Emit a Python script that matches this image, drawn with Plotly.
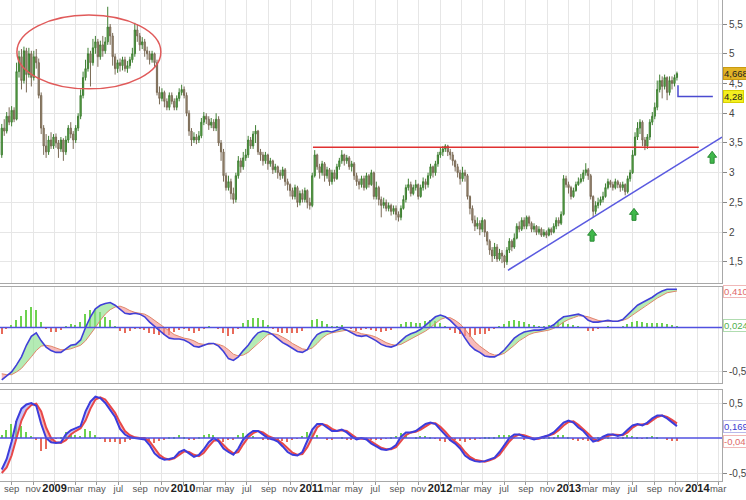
import pandas as pd
import plotly.graph_objects as go
from plotly.subplots import make_subplots

# ---------------- DATA (weekly candles) ----------------
week_start = "2008-08-04"
first_open = 3.30
close = [
    3.75, 3.70, 3.95, 3.85, 4.05, 3.90, 4.70, 4.95, 4.55, 5.05,
    4.65, 5.00, 4.60, 4.95, 4.85, 4.30, 3.75, 3.45, 3.35, 3.55,
    3.45, 3.60, 3.50, 3.40, 3.55, 3.35, 3.55, 3.75, 3.65, 3.55,
    3.75, 3.95, 4.30, 4.60, 4.75, 5.00, 4.85, 5.10, 5.20, 4.95,
    5.15, 5.05, 5.20, 5.45, 5.30, 4.95, 4.75, 4.85, 4.80, 4.90,
    4.75, 4.80, 4.90, 5.00, 5.40, 5.30, 5.15, 5.20, 5.05, 5.00,
    4.90, 5.00, 4.85, 4.35, 4.25, 4.35, 4.20, 4.10, 4.30, 4.20,
    4.10, 4.25, 4.35, 4.40, 4.30, 4.00, 3.70, 3.55, 3.60, 3.55,
    3.62, 3.85, 3.95, 3.90, 3.80, 3.85, 3.75, 3.90, 3.50, 3.35,
    2.95, 2.75, 2.85, 2.65, 2.55, 2.95, 3.20, 3.10, 3.25, 3.30,
    3.55, 3.45, 3.65, 3.70, 3.35, 3.30, 3.20, 3.30, 3.15, 3.20,
    3.05, 3.10, 3.00, 2.95, 3.05, 2.85, 2.80, 2.70, 2.60, 2.75,
    2.50, 2.65, 2.55, 2.70, 2.50, 2.45, 2.95, 3.30, 3.10, 3.00,
    3.15, 2.95, 3.05, 2.85, 3.00, 2.90, 3.10, 3.20, 3.30, 3.20,
    3.25, 3.10, 3.15, 2.95, 2.85, 2.80, 2.90, 2.75, 2.95, 2.80,
    3.00, 2.60, 2.75, 2.55, 2.45, 2.50, 2.40, 2.45, 2.35, 2.40,
    2.30, 2.25, 2.40, 2.55, 2.75, 2.80, 2.65, 2.75, 2.80, 2.60,
    2.75, 2.85, 2.80, 2.95, 3.10, 3.00, 3.15, 3.30, 3.35, 3.40,
    3.45, 3.35, 3.30, 3.20, 3.10, 3.00, 2.90, 3.00, 2.95, 2.60,
    2.40, 2.20, 2.10, 2.15, 2.05, 2.20, 2.00, 1.85, 1.70, 1.60,
    1.75, 1.55, 1.65, 1.60, 1.50, 1.70, 1.85, 1.75, 1.90, 2.10,
    2.05, 2.20, 2.10, 2.25, 2.15, 2.05, 2.10, 2.00, 2.05, 1.95,
    2.00, 1.95, 2.05, 2.00, 2.10, 2.20, 2.15, 2.30, 2.90, 2.80,
    2.75, 2.60, 2.70, 2.80, 2.85, 2.90, 3.00, 3.05, 2.95, 2.60,
    2.35, 2.45, 2.50, 2.55, 2.60, 2.75, 2.85, 2.80, 2.75, 2.85,
    2.80, 2.75, 2.80, 2.68, 2.90, 3.00, 3.30, 3.60, 3.75, 3.85,
    3.55, 3.45, 3.60, 3.85, 3.95, 4.10, 4.40, 4.55, 4.45, 4.60,
    4.35, 4.55, 4.50, 4.60, 4.668,
]
high = [
    3.82, 3.90, 4.02, 4.10, 4.12, 4.10, 4.85, 5.05, 5.08, 5.12,
    5.10, 5.10, 5.05, 5.05, 5.08, 4.92, 4.35, 3.80, 3.65, 3.62,
    3.68, 3.65, 3.66, 3.55, 3.60, 3.58, 3.62, 3.80, 3.85, 3.70,
    3.80, 4.00, 4.40, 4.70, 4.90, 5.10, 5.05, 5.25, 5.30, 5.25,
    5.22, 5.30, 5.28, 5.79, 5.50, 5.35, 5.00, 4.90, 4.92, 4.95,
    4.95, 4.88, 4.95, 5.10, 5.52, 5.50, 5.35, 5.28, 5.25, 5.12,
    5.05, 5.05, 5.02, 4.90, 4.45, 4.42, 4.38, 4.25, 4.35, 4.35,
    4.25, 4.30, 4.42, 4.48, 4.45, 4.35, 4.05, 3.75, 3.68, 3.65,
    3.70, 3.92, 4.02, 4.00, 3.95, 3.92, 3.90, 4.00, 3.95, 3.55,
    3.40, 3.00, 2.95, 2.90, 2.75, 3.00, 3.28, 3.25, 3.35, 3.40,
    3.62, 3.60, 3.70, 3.80, 3.72, 3.40, 3.35, 3.35, 3.32, 3.25,
    3.22, 3.15, 3.12, 3.05, 3.10, 3.08, 2.90, 2.82, 2.75, 2.80,
    2.78, 2.70, 2.72, 2.75, 2.72, 2.58, 3.00, 3.38, 3.32, 3.15,
    3.20, 3.18, 3.10, 3.08, 3.05, 3.05, 3.15, 3.25, 3.38, 3.32,
    3.30, 3.28, 3.20, 3.18, 3.00, 2.90, 2.95, 2.95, 3.00, 2.98,
    3.05, 3.02, 2.85, 2.78, 2.60, 2.58, 2.55, 2.50, 2.48, 2.45,
    2.45, 2.35, 2.45, 2.62, 2.80, 2.90, 2.85, 2.80, 2.88, 2.82,
    2.80, 2.92, 2.90, 3.00, 3.15, 3.12, 3.20, 3.35, 3.42, 3.45,
    3.48, 3.47, 3.40, 3.35, 3.22, 3.15, 3.05, 3.10, 3.05, 2.98,
    2.62, 2.45, 2.28, 2.25, 2.20, 2.25, 2.22, 2.02, 1.88, 1.75,
    1.82, 1.80, 1.72, 1.70, 1.62, 1.75, 1.90, 1.88, 1.98, 2.15,
    2.18, 2.25, 2.25, 2.28, 2.28, 2.18, 2.15, 2.12, 2.10, 2.08,
    2.05, 2.03, 2.08, 2.08, 2.15, 2.25, 2.25, 2.35, 2.96, 2.95,
    2.85, 2.78, 2.75, 2.85, 2.92, 2.98, 3.05, 3.16, 3.08, 2.98,
    2.62, 2.52, 2.58, 2.60, 2.68, 2.82, 2.90, 2.88, 2.85, 2.90,
    2.88, 2.84, 2.85, 2.82, 2.95, 3.05, 3.38, 3.68, 3.85, 3.90,
    3.88, 3.60, 3.65, 3.90, 4.02, 4.18, 4.55, 4.65, 4.62, 4.65,
    4.62, 4.62, 4.62, 4.65, 4.70,
]
low = [
    3.25, 3.62, 3.66, 3.80, 3.78, 3.85, 3.88, 4.60, 4.40, 4.50,
    4.35, 4.60, 4.45, 4.55, 4.75, 4.25, 3.65, 3.30, 3.25, 3.30,
    3.40, 3.40, 3.42, 3.25, 3.35, 3.20, 3.30, 3.50, 3.58, 3.40,
    3.50, 3.70, 3.90, 4.25, 4.55, 4.70, 4.45, 4.80, 5.00, 4.78,
    4.90, 4.95, 5.00, 5.15, 5.15, 4.80, 4.65, 4.68, 4.70, 4.72,
    4.70, 4.68, 4.75, 4.85, 4.95, 5.20, 5.05, 5.08, 4.95, 4.90,
    4.82, 4.85, 4.78, 4.30, 4.15, 4.20, 4.10, 4.05, 4.05, 4.15,
    4.05, 4.05, 4.20, 4.30, 4.25, 3.95, 3.62, 3.45, 3.50, 3.48,
    3.50, 3.58, 3.80, 3.82, 3.72, 3.75, 3.70, 3.70, 3.45, 3.20,
    2.85, 2.70, 2.70, 2.55, 2.48, 2.50, 2.90, 3.00, 3.05, 3.20,
    3.25, 3.40, 3.40, 3.50, 3.30, 3.20, 3.12, 3.15, 3.05, 3.10,
    2.98, 3.00, 2.90, 2.88, 2.90, 2.78, 2.70, 2.60, 2.55, 2.55,
    2.42, 2.45, 2.50, 2.50, 2.40, 2.38, 2.42, 2.92, 3.05, 2.90,
    2.95, 2.85, 2.90, 2.78, 2.80, 2.85, 2.88, 3.05, 3.15, 3.12,
    3.15, 3.05, 3.02, 2.88, 2.78, 2.72, 2.75, 2.70, 2.72, 2.75,
    2.78, 2.55, 2.55, 2.45, 2.25, 2.40, 2.35, 2.35, 2.28, 2.30,
    2.20, 2.18, 2.20, 2.38, 2.50, 2.70, 2.60, 2.62, 2.70, 2.55,
    2.58, 2.70, 2.72, 2.75, 2.90, 2.92, 2.95, 3.10, 3.25, 3.28,
    3.35, 3.28, 3.22, 3.12, 3.02, 2.92, 2.80, 2.85, 2.85, 2.55,
    2.30, 2.15, 2.02, 2.05, 1.95, 2.00, 1.92, 1.78, 1.62, 1.50,
    1.55, 1.50, 1.52, 1.48, 1.40, 1.45, 1.65, 1.68, 1.72, 1.88,
    2.00, 2.02, 2.05, 2.05, 2.10, 2.00, 2.00, 1.95, 1.96, 1.92,
    1.92, 1.90, 1.93, 1.95, 1.98, 2.05, 2.10, 2.12, 2.28, 2.75,
    2.65, 2.55, 2.58, 2.68, 2.78, 2.82, 2.85, 2.95, 2.88, 2.55,
    2.25, 2.30, 2.40, 2.45, 2.50, 2.58, 2.72, 2.75, 2.70, 2.72,
    2.74, 2.68, 2.70, 2.62, 2.65, 2.85, 2.98, 3.28, 3.55, 3.65,
    3.45, 3.38, 3.40, 3.55, 3.80, 3.90, 4.05, 4.35, 4.25, 4.40,
    4.22, 4.30, 4.40, 4.45, 4.55,
]

# ---------------- DATA (indicators, every second week) ----------------
macd_line = [
    -0.59, -0.55, -0.50, -0.42, -0.33, -0.20, -0.10, -0.06, -0.15, -0.22,
    -0.26, -0.28, -0.28, -0.24, -0.20, -0.19, -0.14, 0.00, 0.12, 0.21,
    0.25, 0.27, 0.28, 0.25, 0.20, 0.16, 0.15, 0.16, 0.15, 0.12,
    0.06, 0.01, -0.04, -0.08, -0.12, -0.13, -0.13, -0.14, -0.17, -0.21,
    -0.22, -0.20, -0.18, -0.18, -0.21, -0.27, -0.35, -0.37, -0.33, -0.26,
    -0.20, -0.12, -0.06, -0.04, -0.05, -0.08, -0.13, -0.17, -0.20, -0.24,
    -0.27, -0.28, -0.25, -0.15, -0.08, -0.05, -0.04, -0.05, -0.03, -0.01,
    -0.03, -0.06, -0.09, -0.10, -0.09, -0.12, -0.15, -0.19, -0.21, -0.22,
    -0.20, -0.15, -0.10, -0.07, -0.05, -0.02, 0.03, 0.08, 0.12, 0.14,
    0.12, 0.08, 0.02, -0.03, -0.12, -0.20, -0.25, -0.28, -0.32, -0.33,
    -0.33, -0.30, -0.25, -0.18, -0.12, -0.08, -0.05, -0.04, -0.03, -0.03,
    -0.02, 0.00, 0.03, 0.08, 0.12, 0.13, 0.14, 0.15, 0.13, 0.08,
    0.06, 0.06, 0.07, 0.08, 0.07, 0.07, 0.09, 0.14, 0.20, 0.25,
    0.28, 0.31, 0.34, 0.38, 0.41, 0.43, 0.43, 0.43,
]
macd_signal = [
    -0.52, -0.53, -0.53, -0.50, -0.46, -0.40, -0.33, -0.26, -0.21, -0.20,
    -0.21, -0.23, -0.25, -0.25, -0.24, -0.22, -0.20, -0.15, -0.08, 0.00,
    0.08, 0.15, 0.20, 0.23, 0.24, 0.22, 0.19, 0.17, 0.16, 0.15,
    0.12, 0.08, 0.04, 0.00, -0.04, -0.08, -0.10, -0.12, -0.13, -0.15,
    -0.18, -0.19, -0.19, -0.18, -0.19, -0.21, -0.25, -0.30, -0.32, -0.31,
    -0.28, -0.23, -0.17, -0.12, -0.08, -0.07, -0.08, -0.11, -0.14, -0.18,
    -0.21, -0.24, -0.25, -0.23, -0.18, -0.12, -0.08, -0.06, -0.05, -0.04,
    -0.03, -0.04, -0.05, -0.07, -0.08, -0.09, -0.11, -0.14, -0.17, -0.19,
    -0.20, -0.19, -0.16, -0.13, -0.10, -0.07, -0.04, 0.00, 0.05, 0.09,
    0.11, 0.11, 0.08, 0.04, -0.02, -0.09, -0.16, -0.21, -0.25, -0.29,
    -0.31, -0.31, -0.29, -0.25, -0.20, -0.15, -0.11, -0.08, -0.06, -0.05,
    -0.04, -0.03, -0.01, 0.02, 0.06, 0.09, 0.11, 0.13, 0.13, 0.12,
    0.10, 0.08, 0.07, 0.07, 0.07, 0.07, 0.08, 0.10, 0.14, 0.18,
    0.22, 0.26, 0.29, 0.33, 0.36, 0.39, 0.40, 0.41,
]
osc_blue = [
    -0.45, -0.30, -0.05, 0.25, 0.42, 0.48, 0.50, 0.46, 0.20, 0.00,
    -0.06, -0.07, -0.06, 0.05, 0.11, 0.14, 0.17, 0.38, 0.52, 0.59,
    0.57, 0.50, 0.40, 0.30, 0.13, 0.05, 0.01, 0.00, 0.00, -0.02,
    -0.10, -0.22, -0.28, -0.31, -0.30, -0.28, -0.20, -0.17, -0.22, -0.27,
    -0.24, -0.16, -0.06, 0.00, -0.05, -0.15, -0.20, -0.24, -0.15, -0.02,
    0.05, 0.10, 0.10, 0.05, 0.00, -0.02, -0.05, -0.12, -0.20, -0.24,
    -0.25, -0.20, -0.05, 0.12, 0.20, 0.20, 0.15, 0.10, 0.10, 0.12,
    0.08, 0.02, -0.02, 0.00, -0.02, -0.08, -0.12, -0.16, -0.17, -0.15,
    -0.10, 0.02, 0.08, 0.08, 0.10, 0.15, 0.20, 0.22, 0.20, 0.12,
    0.04, -0.03, -0.08, -0.15, -0.25, -0.30, -0.33, -0.34, -0.33, -0.30,
    -0.28, -0.20, -0.10, 0.00, 0.05, 0.05, 0.02, 0.00, -0.02, 0.00,
    0.02, 0.04, 0.08, 0.15, 0.22, 0.25, 0.22, 0.15, 0.10, 0.02,
    -0.05, -0.03, 0.02, 0.05, 0.05, 0.03, 0.05, 0.12, 0.18, 0.20,
    0.18, 0.22, 0.28, 0.32, 0.32, 0.28, 0.22, 0.17,
]
osc_red = [
    -0.50, -0.42, -0.25, 0.00, 0.25, 0.40, 0.47, 0.49, 0.38, 0.15,
    0.00, -0.06, -0.07, -0.03, 0.05, 0.10, 0.14, 0.25, 0.42, 0.55,
    0.58, 0.55, 0.46, 0.36, 0.22, 0.10, 0.04, 0.01, 0.00, 0.00,
    -0.05, -0.15, -0.24, -0.29, -0.31, -0.29, -0.24, -0.19, -0.20, -0.24,
    -0.26, -0.21, -0.12, -0.04, -0.03, -0.10, -0.17, -0.22, -0.20, -0.09,
    0.01, 0.07, 0.10, 0.08, 0.03, 0.00, -0.03, -0.08, -0.15, -0.21,
    -0.24, -0.23, -0.13, 0.02, 0.15, 0.20, 0.18, 0.13, 0.10, 0.11,
    0.10, 0.05, 0.00, -0.01, -0.01, -0.05, -0.10, -0.14, -0.16, -0.16,
    -0.13, -0.05, 0.04, 0.08, 0.09, 0.12, 0.17, 0.21, 0.21, 0.16,
    0.09, 0.01, -0.05, -0.11, -0.20, -0.27, -0.31, -0.33, -0.34, -0.32,
    -0.29, -0.24, -0.15, -0.05, 0.02, 0.05, 0.04, 0.01, -0.01, -0.01,
    0.01, 0.03, 0.06, 0.11, 0.18, 0.23, 0.24, 0.19, 0.13, 0.06,
    -0.01, -0.04, -0.01, 0.03, 0.05, 0.04, 0.04, 0.08, 0.15, 0.19,
    0.19, 0.20, 0.25, 0.30, 0.32, 0.30, 0.26, 0.21,
]

# annotation levels
resistance_level = 3.43
stop_level = 4.28
last_price = 4.668
macd_labels = [("0,410", 0.410), ("0,024", 0.024)]
osc_labels = [("0,169", 0.169), ("-0,045", -0.045)]

# ---------------- BUILD ----------------
dates = pd.date_range(week_start, periods=len(close), freq="7D")
opens = [first_open] + close[:-1]
ind_dates = list(dates[::2])

x_start, x_end = pd.Timestamp("2008-07-30"), pd.Timestamp("2014-03-12")

fig = make_subplots(rows=3, cols=1, shared_xaxes=True)

fig.add_trace(go.Candlestick(
    x=dates, open=opens, high=high, low=low, close=close,
    increasing=dict(line=dict(color="#3f7f33", width=1), fillcolor="#63b04f"),
    decreasing=dict(line=dict(color="#7a6a55", width=1), fillcolor="#a89780"),
    whiskerwidth=0, showlegend=False, hoverinfo="skip"), row=1, col=1)


def fill_polys(xd, a, b):
    up_x, up_y, dn_x, dn_y = [], [], [], []
    for i in range(len(a) - 1):
        x0, x1 = xd[i], xd[i + 1]
        d0, d1 = a[i] - b[i], a[i + 1] - b[i + 1]
        if d0 * d1 < 0:
            t = d0 / (d0 - d1)
            xm = x0 + (x1 - x0) * t
            ym = a[i] + (a[i + 1] - a[i]) * t
            segs = [(x0, xm, a[i], ym, b[i], ym, d0), (xm, x1, ym, a[i + 1], ym, b[i + 1], d1)]
        else:
            segs = [(x0, x1, a[i], a[i + 1], b[i], b[i + 1], d0 + d1)]
        for xa, xb, ya0, ya1, yb0, yb1, sgn in segs:
            px = [xa, xb, xb, xa, xa, None]
            py = [ya0, ya1, yb1, yb0, ya0, None]
            if sgn >= 0:
                up_x += px; up_y += py
            else:
                dn_x += px; dn_y += py
    return up_x, up_y, dn_x, dn_y


bar_w = 4 * 86400000

# ---- MACD panel ----
macd_hist = [m - s for m, s in zip(macd_line, macd_signal)]
fig.add_trace(go.Bar(x=ind_dates, y=macd_hist, width=bar_w,
                     marker=dict(color=["#6dd24f" if v >= 0 else "#e86a5a" for v in macd_hist], line_width=0),
                     showlegend=False, hoverinfo="skip"), row=2, col=1)
ux, uy, dx, dy = fill_polys(ind_dates, macd_line, macd_signal)
fig.add_trace(go.Scatter(x=ux, y=uy, fill="toself", fillcolor="rgba(140,225,140,0.65)", line_width=0,
                         mode="lines", showlegend=False, hoverinfo="skip"), row=2, col=1)
fig.add_trace(go.Scatter(x=dx, y=dy, fill="toself", fillcolor="rgba(245,150,150,0.65)", line_width=0,
                         mode="lines", showlegend=False, hoverinfo="skip"), row=2, col=1)
fig.add_trace(go.Scatter(x=ind_dates, y=macd_signal, mode="lines", line=dict(color="#e0866a", width=1),
                         showlegend=False, hoverinfo="skip"), row=2, col=1)
fig.add_trace(go.Scatter(x=ind_dates, y=macd_line, mode="lines", line=dict(color="#4040d8", width=1.6),
                         showlegend=False, hoverinfo="skip"), row=2, col=1)

# ---- Oscillator panel ----
osc_hist = [b - r for b, r in zip(osc_blue, osc_red)]
fig.add_trace(go.Bar(x=ind_dates, y=osc_hist, width=bar_w,
                     marker=dict(color=["#6dd24f" if v >= 0 else "#e86a5a" for v in osc_hist], line_width=0),
                     showlegend=False, hoverinfo="skip"), row=3, col=1)
ux, uy, dx, dy = fill_polys(ind_dates, osc_blue, osc_red)
fig.add_trace(go.Scatter(x=ux, y=uy, fill="toself", fillcolor="rgba(150,150,240,0.55)", line_width=0,
                         mode="lines", showlegend=False, hoverinfo="skip"), row=3, col=1)
fig.add_trace(go.Scatter(x=dx, y=dy, fill="toself", fillcolor="rgba(245,130,130,0.6)", line_width=0,
                         mode="lines", showlegend=False, hoverinfo="skip"), row=3, col=1)
fig.add_trace(go.Scatter(x=ind_dates, y=osc_red, mode="lines", line=dict(color="#e84848", width=2),
                         showlegend=False, hoverinfo="skip"), row=3, col=1)
fig.add_trace(go.Scatter(x=ind_dates, y=osc_blue, mode="lines", line=dict(color="#3c3cdc", width=2),
                         showlegend=False, hoverinfo="skip"), row=3, col=1)

# ---------------- AXES ----------------
tick_dates = pd.date_range("2008-09-01", "2014-03-01", freq="2MS")
mon = {9: "sep", 11: "nov", 3: "mar", 5: "may", 7: "jul"}
tick_text = [("<span style='font-size:11px;color:#222'><b>%d</b></span>" % d.year) if d.month == 1 else mon[d.month]
             for d in tick_dates]

xcommon = dict(range=[x_start, x_end], tickvals=list(tick_dates), ticktext=tick_text,
               showgrid=True, gridcolor="#e6e6e6", gridwidth=1, showline=True, mirror=True,
               linecolor="#a8a8a8", linewidth=1, rangeslider=dict(visible=False), zeroline=False,
               automargin=False, tickangle=0)
fig.update_xaxes(**xcommon)
fig.update_xaxes(showticklabels=False, ticks="", row=1, col=1)
fig.update_xaxes(showticklabels=False, ticks="", row=2, col=1)
fig.update_xaxes(showticklabels=True, ticks="outside", ticklen=3, tickcolor="#999",
                 ticklabelstandoff=-4,
                 tickfont=dict(size=9.5, color="#555"), row=3, col=1)

ycommon = dict(side="right", ticks="outside", ticklen=4, tickcolor="#888", showline=True,
               linecolor="#a8a8a8", linewidth=1, showgrid=True, gridcolor="#e6e6e6", zeroline=False,
               tickfont=dict(size=10, color="#444"), automargin=False)
H = 481.0
fig.update_layout(
    yaxis=dict(domain=[1 - 283 / H, 1], range=[1.146, 5.904],
               tickvals=[1.5, 2, 2.5, 3, 3.5, 4, 4.5, 5, 5.5], **ycommon),
    yaxis2=dict(domain=[1 - 383 / H, 1 - 287 / H], range=[-0.624, 0.455], tickvals=[-0.5],
                ticktext=["-0,5"], **ycommon),
    yaxis3=dict(domain=[0, 1 - 390 / H], range=[-0.614, 0.686], tickvals=[-0.5, 0.5],
                ticktext=["-0,5", "0,5"], **ycommon),
)

# ---------------- SHAPES ----------------
shapes = []
shapes.append(dict(type="line", xref="paper", x0=0, x1=1, yref="y2", y0=0, y1=0,
                   line=dict(color="#5050e0", width=1.6)))
shapes.append(dict(type="line", xref="paper", x0=0, x1=1, yref="y3", y0=0, y1=0,
                   line=dict(color="#5050e0", width=1.6)))
shapes.append(dict(type="circle", xref="x", yref="y", x0=pd.Timestamp("2008-09-16"), x1=pd.Timestamp("2009-10-30"),
                   y0=4.41, y1=5.65, line=dict(color="#e05a5a", width=1.5)))
shapes.append(dict(type="line", xref="x", yref="y", x0=pd.Timestamp("2011-01-05"), x1=pd.Timestamp("2014-01-05"),
                   y0=resistance_level, y1=resistance_level, line=dict(color="#e03030", width=1.5)))
shapes.append(dict(type="line", xref="x", yref="y", x0=pd.Timestamp("2012-07-12"), x1=x_end,
                   y0=1.36, y1=3.60, line=dict(color="#5a5ae0", width=1.5)))
shapes.append(dict(type="path", xref="x", yref="y",
                   path="M %s,4.47 L %s,%s L %s,%s" % ("2013-11-07", "2013-11-07", stop_level, "2014-02-14", stop_level),
                   line=dict(color="#4a4ad0", width=1.5)))
arrow_path = "M -2,-6 L 2,-6 L 2,0 L 4.5,0 L 0,6 L -4.5,0 L -2,0 Z"
for d, p in [("2013-03-08", 1.95), ("2013-07-05", 2.30), ("2014-02-12", 3.26)]:
    shapes.append(dict(type="path", xref="x", yref="y", xsizemode="pixel", ysizemode="pixel",
                       xanchor=d, yanchor=p, path=arrow_path,
                       fillcolor="#3fb84a", line=dict(color="#2a8a34", width=1)))

# ---------------- ANNOTATIONS ----------------
lab_font = dict(size=9.5)
ann = []
ann.append(dict(x=1, xref="paper", y=last_price, yref="y", text="4,668", showarrow=False, xanchor="left",
                xshift=1, bgcolor="#e2b325", bordercolor="#c99a10", borderwidth=1, borderpad=0,
                font=dict(color="#222", **lab_font)))
ann.append(dict(x=1, xref="paper", y=stop_level, yref="y", text="4,28", showarrow=False, xanchor="left",
                xshift=1, bgcolor="#f4ef20", bordercolor="#d8d000", borderwidth=1, borderpad=0,
                font=dict(color="#222", **lab_font)))
for (txt, v), col, bcol in zip(macd_labels, ["#e06a6a", "#4fb04f"], ["#f0b8b8", "#b0dcb0"]):
    ann.append(dict(x=1, xref="paper", y=v, yref="y2", text=txt, showarrow=False, xanchor="left",
                    xshift=1, bgcolor="#ffffff", bordercolor=bcol, borderwidth=1, borderpad=0,
                    font=dict(color=col, **lab_font)))
for (txt, v), col, bcol in zip(osc_labels, ["#3a3ad0", "#e06a6a"], ["#b8b8ea", "#f0b8b8"]):
    ann.append(dict(x=1, xref="paper", y=v, yref="y3", text=txt, showarrow=False, xanchor="left",
                    xshift=1, bgcolor="#ffffff", bordercolor=bcol, borderwidth=1, borderpad=0,
                    font=dict(color=col, **lab_font)))

fig.update_layout(
    width=746, height=500, margin=dict(l=0, r=24, t=0, b=19, autoexpand=False),
    paper_bgcolor="white", plot_bgcolor="white", separators=",.",
    font=dict(family="Liberation Sans, Arial, sans-serif", size=10, color="#444"),
    showlegend=False, shapes=shapes, annotations=ann, bargap=0,
)

fig.write_html("out.html")
